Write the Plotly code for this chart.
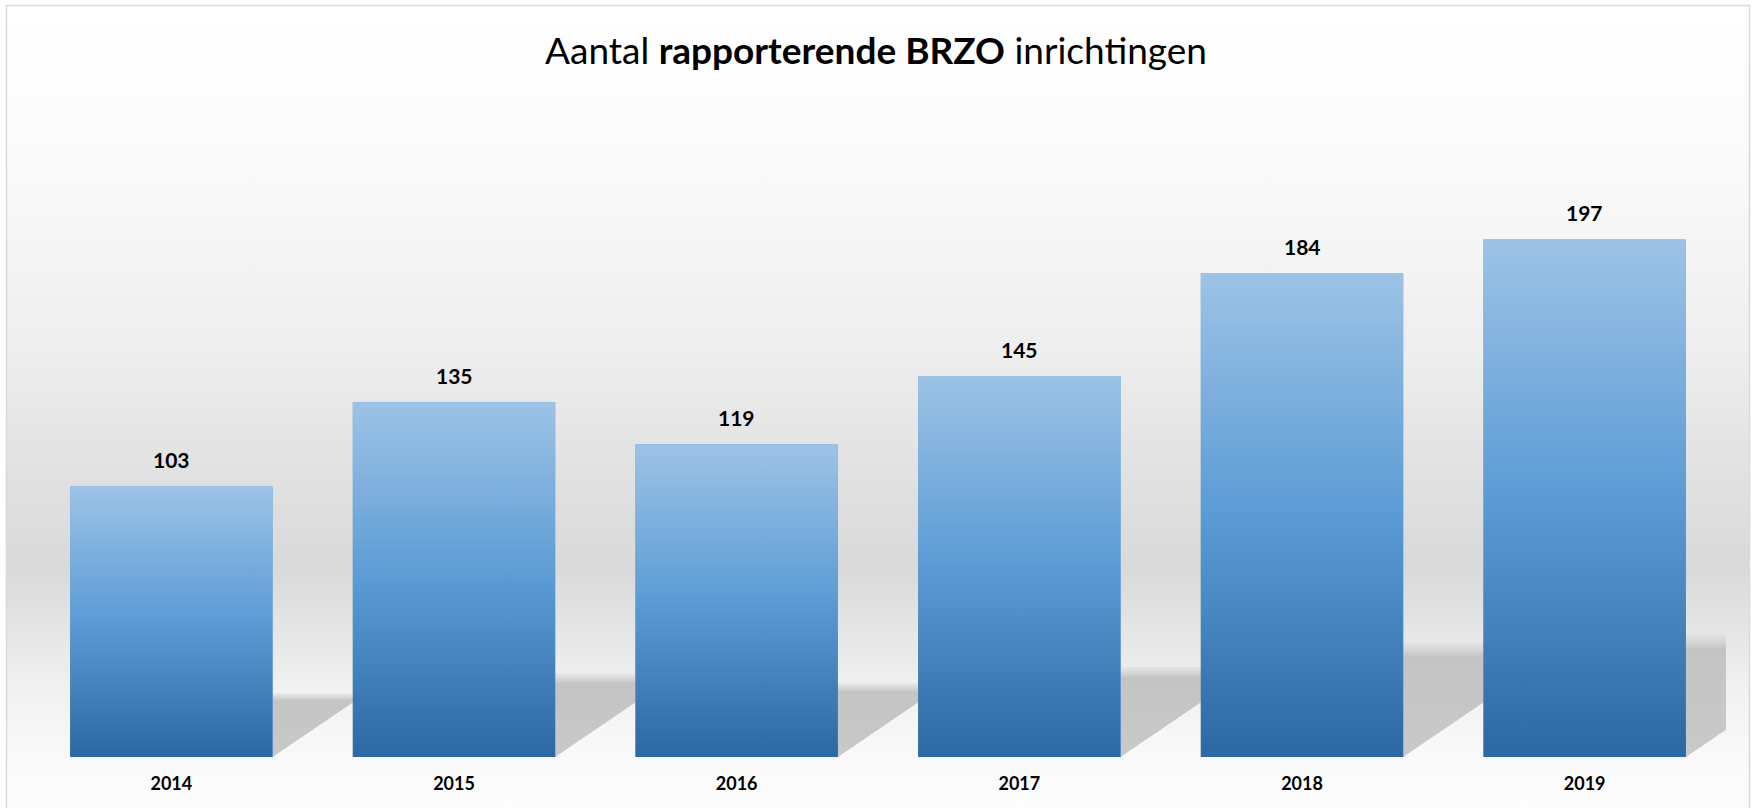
import base64
import plotly.graph_objects as go

# ---------------- data ----------------
years = ["2014", "2015", "2016", "2017", "2018", "2019"]
values = [103, 135, 119, 145, 184, 197]
title_text = "Aantal <b>rapporterende BRZO</b> inrichtingen"

# ---------------- style constants ----------------
W, H = 1752, 808
BAR_W = 0.716
SHADOW_RATIO = 0.236      # shadow height relative to bar height
SHADOW_SKEW = 0.01367     # horizontal shift (category units) per y unit of shadow height
FONT = "Lato"
Y_MAX = 220

x = list(range(len(years)))

# background gradient (style) as an SVG image
stops = [
    (0.00, "#ffffff"), (0.15, "#fcfcfc"), (0.24, "#f8f8f8"), (0.43, "#eeeeee"),
    (0.56, "#e3e3e3"), (0.70, "#d9d9d9"), (0.77, "#e4e4e4"), (0.86, "#f2f2f2"),
    (0.945, "#fafafa"), (1.00, "#fdfdfd"),
]
stop_xml = "".join(f'<stop offset="{o}" stop-color="{c}"/>' for o, c in stops)
svg = (
    '<svg xmlns="http://www.w3.org/2000/svg" width="1744" height="803" '
    'viewBox="0 0 1744 803" preserveAspectRatio="none">'
    f'<defs><linearGradient id="g" x1="0" y1="0" x2="0" y2="1">{stop_xml}</linearGradient></defs>'
    '<rect x="0" y="0" width="1744" height="803" fill="url(#g)"/></svg>'
)
bg_src = "data:image/svg+xml;base64," + base64.b64encode(svg.encode()).decode()

fig = go.Figure()

# shadows (main subplot, drawn beneath the overlay subplot holding the bars)
for xi, v in zip(x, values):
    sh = v * SHADOW_RATIO
    dx = sh * SHADOW_SKEW
    xs = [xi - BAR_W / 2, xi + BAR_W / 2, xi + BAR_W / 2 + dx, xi - BAR_W / 2 + dx, xi - BAR_W / 2]
    ys = [0, 0, sh, sh, 0]
    fig.add_trace(go.Scatter(
        x=xs, y=ys, fill="toself", mode="none",
        fillgradient=dict(type="vertical",
                          colorscale=[[0, "#c9c9c9"], [0.88, "#c4c4c4"], [1, "rgba(210,210,210,0.3)"]]),
        hoverinfo="skip", showlegend=False, xaxis="x", yaxis="y",
    ))

# bars
fig.add_trace(go.Bar(
    x=x, y=values, width=BAR_W,
    marker=dict(color="#5b9bd5", line=dict(width=0)),
    hoverinfo="skip", showlegend=False, xaxis="x2", yaxis="y2",
))

# gradient fill on top of each bar
for xi, v in zip(x, values):
    xs = [xi - BAR_W / 2, xi + BAR_W / 2, xi + BAR_W / 2, xi - BAR_W / 2, xi - BAR_W / 2]
    ys = [0, 0, v, v, 0]
    fig.add_trace(go.Scatter(
        x=xs, y=ys, fill="toself", mode="none",
        fillgradient=dict(type="vertical",
                          colorscale=[[0, "#2c68a3"], [0.5, "#5b9bd5"], [1, "#9dc3e6"]]),
        hoverinfo="skip", showlegend=False, xaxis="x2", yaxis="y2",
    ))

# value labels
for xi, v in zip(x, values):
    fig.add_annotation(
        x=xi, y=v, xref="x2", yref="y2", text=str(v), showarrow=False,
        yanchor="middle", yshift=27,
        font=dict(family=FONT, size=21, color="#000000", weight="bold"),
    )

fig.update_layout(
    width=W, height=H,
    margin=dict(l=0, r=0, t=0, b=0, pad=0),
    paper_bgcolor="#ffffff",
    plot_bgcolor="rgba(0,0,0,0)",
    showlegend=False,
    title=dict(text=title_text, x=0.5, xanchor="center", y=1 - 51 / H, yanchor="middle",
               font=dict(family=FONT, size=37, color="#000000")),
    xaxis=dict(domain=[30 / W, 1726 / W], range=[-0.5, 5.5], tickvals=x, ticktext=years,
               showgrid=False, zeroline=False, showline=False, ticks="",
               tickfont=dict(family=FONT, size=18, color="#000000", weight="bold"),
               ticklabelstandoff=14, fixedrange=True),
    yaxis=dict(domain=[51 / H, 629 / H], range=[0, Y_MAX], visible=False, fixedrange=True),
    xaxis2=dict(overlaying="x", range=[-0.5, 5.5], visible=False, fixedrange=True),
    yaxis2=dict(overlaying="y", range=[0, Y_MAX], visible=False, fixedrange=True),
    images=[dict(source=bg_src, xref="paper", yref="paper", x=6 / W, y=1 - 5 / H,
                 sizex=1744 / W, sizey=803 / H, xanchor="left", yanchor="top",
                 sizing="stretch", layer="below")],
    shapes=[dict(type="rect", xref="paper", yref="paper", x0=6.5 / W, x1=1749.5 / W,
                 y0=-0.02, y1=1 - 5.5 / H, line=dict(color="#d9d9d9", width=1.5),
                 fillcolor="rgba(0,0,0,0)", layer="above")],
)

fig.write_html("out.html")
